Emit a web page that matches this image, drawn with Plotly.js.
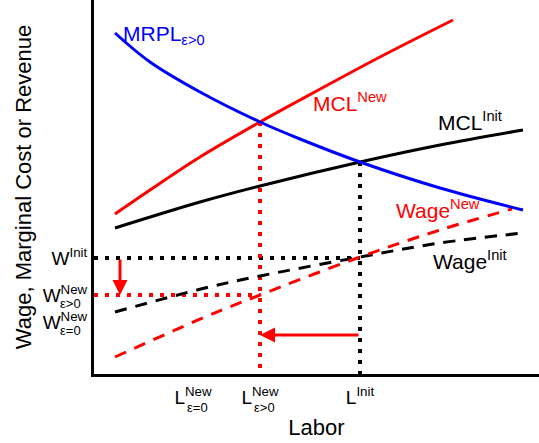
<!DOCTYPE html>
<html>
<head>
<meta charset="utf-8">
<script src="https://cdn.plot.ly/plotly-3.0.1.min.js"></script>
<style>html,body{margin:0;padding:0;background:#fff;}#chart{width:539px;height:443px;}</style>
</head>
<body>
<div id="chart"></div>
<script>
// ---- data (arbitrary units) ----
const laborMRPL   = [21, 56, 106, 166, 206, 266, 346, 429];
const mrpl        = [341, 312, 282, 252, 235, 212, 186, 164];

const laborMCLNew = [21, 56, 106, 166, 206, 286, 359];
const mclNew      = [160, 184, 217, 252, 274, 317, 354];

const laborMCLInit = [21, 106, 166, 266, 346, 429];
const mclInit      = [146, 172, 188, 212, 229, 244];

const laborWageNew = [21, 111, 166, 266, 346, 418];
const wageNew      = [17, 57, 79, 117, 144, 165];

const laborWageInit = [21, 111, 166, 266, 346, 429];
const wageInit      = [62, 86, 98, 117, 131, 141];

// key levels
const lInit = 266, lNewPos = 166, lNewZero = 99;
const wInitLevel = 116, wNewPos = 79, wNewZero = 52;
const mrplAtInit = 212, mrplAtNew = 252;
const arrowWageX = 26;     // labour position of the wage-drop arrow
const arrowLaborY = 39;    // wage position of the labour-drop arrow

const xTickVals = [lNewZero, lNewPos, lInit];
const xTickText = ['L<sup>New</sup>', 'L<sup>New</sup>', 'L<sup>Init</sup>'];
const xTickSubs = ['ε=0', 'ε&gt;0', ''];
const yTickVals = [wNewZero, wNewPos, wInitLevel];
const yTickText = ['W<sup>New</sup>', 'W<sup>New</sup>', 'W<sup>Init</sup>'];
const yTickSubs = ['ε=0', 'ε&gt;0', ''];

const FONT = 'Liberation Sans, Arial, sans-serif';
const RED = '#ff0000', BLUE = '#0000ff', BLACK = '#000000';

const traces = [
  {x: [0, lInit, null, lInit, lInit], y: [wInitLevel, wInitLevel, null, mrplAtInit, 0],
   mode: 'lines', line: {color: BLACK, width: 4, dash: '4px,7px'}},
  {x: [0, lNewPos, null, lNewPos, lNewPos], y: [wNewPos, wNewPos, null, mrplAtNew, 0],
   mode: 'lines', line: {color: RED, width: 4, dash: '4px,7px'}},
  {x: laborWageInit, y: wageInit, mode: 'lines', line: {color: BLACK, width: 3, dash: '12px,9px', shape: 'spline'}},
  {x: laborWageNew, y: wageNew, mode: 'lines', line: {color: RED, width: 3, dash: '12px,9px', shape: 'spline'}},
  {x: laborMCLInit, y: mclInit, mode: 'lines', line: {color: BLACK, width: 3, shape: 'spline'}},
  {x: laborMCLNew, y: mclNew, mode: 'lines', line: {color: RED, width: 3, shape: 'spline'}},
  {x: laborMRPL, y: mrpl, mode: 'lines', line: {color: BLUE, width: 3, shape: 'spline'}}
];

const annotations = [
  {x: 27, y: 339, xref: 'x', yref: 'y', xanchor: 'left', yanchor: 'middle', showarrow: false,
   text: 'MRPL<sub>ε&gt;0</sub>', font: {family: FONT, size: 21, color: BLUE}},
  {x: 217, y: 272, xref: 'x', yref: 'y', xanchor: 'left', yanchor: 'middle', showarrow: false,
   text: 'MCL<sup>New</sup>', font: {family: FONT, size: 21, color: RED}},
  {x: 342, y: 253, xref: 'x', yref: 'y', xanchor: 'left', yanchor: 'middle', showarrow: false,
   text: 'MCL<sup>Init</sup>', font: {family: FONT, size: 21, color: BLACK}},
  {x: 300, y: 165, xref: 'x', yref: 'y', xanchor: 'left', yanchor: 'middle', showarrow: false,
   text: 'Wage<sup>New</sup>', font: {family: FONT, size: 21, color: RED}},
  {x: 337, y: 114, xref: 'x', yref: 'y', xanchor: 'left', yanchor: 'middle', showarrow: false,
   text: 'Wage<sup>Init</sup>', font: {family: FONT, size: 21, color: BLACK}},
  // arrows
  {x: arrowWageX, y: wNewPos, ax: arrowWageX, ay: wInitLevel, xref: 'x', yref: 'y', axref: 'x', ayref: 'y',
   text: '', showarrow: true, arrowhead: 2, arrowsize: 1, arrowwidth: 3, arrowcolor: RED, standoff: 0},
  {x: lNewPos, y: arrowLaborY, ax: lInit, ay: arrowLaborY, xref: 'x', yref: 'y', axref: 'x', ayref: 'y',
   text: '', showarrow: true, arrowhead: 2, arrowsize: 1, arrowwidth: 3, arrowcolor: RED, standoff: 0}
];

// subscripts of the tick labels
xTickVals.forEach((v, i) => {
  if (!xTickSubs[i]) return;
  annotations.push({x: v, y: 0, xref: 'x', yref: 'paper', xanchor: 'left', yanchor: 'middle',
    xshift: -8, yshift: -33, showarrow: false, text: xTickSubs[i],
    font: {family: FONT, size: 13, color: BLACK}});
});
yTickVals.forEach((v, i) => {
  if (!yTickSubs[i]) return;
  annotations.push({x: 0, y: v, xref: 'paper', yref: 'y', xanchor: 'left', yanchor: 'middle',
    xshift: -36, yshift: -8, showarrow: false, text: yTickSubs[i],
    font: {family: FONT, size: 13, color: BLACK}});
});

const layout = {
  width: 539, height: 443,
  margin: {l: 94, r: 0, t: 0, b: 69, pad: 0},
  paper_bgcolor: '#fff', plot_bgcolor: '#fff',
  showlegend: false,
  font: {family: FONT, color: BLACK},
  xaxis: {
    range: [0, 445], showgrid: false, zeroline: false, showline: true, linewidth: 3, linecolor: BLACK,
    ticks: '', tickvals: xTickVals, ticktext: xTickText, tickfont: {family: FONT, size: 19, color: BLACK},
    ticklabelstandoff: 4,
    title: {text: 'Labor', font: {family: FONT, size: 22, color: BLACK}, standoff: 13},
    automargin: false, fixedrange: true
  },
  yaxis: {
    range: [0, 374], showgrid: false, zeroline: false, showline: true, linewidth: 3, linecolor: BLACK,
    ticks: '', tickvals: yTickVals, ticktext: yTickText, tickfont: {family: FONT, size: 19, color: BLACK},
    title: {text: 'Wage, Marginal Cost or Revenue', font: {family: FONT, size: 22, color: BLACK}, standoff: 5},
    automargin: false, fixedrange: true
  },
  annotations: annotations
};

Plotly.newPlot('chart', traces, layout, {displayModeBar: false, staticPlot: true});
</script>
</body>
</html>
